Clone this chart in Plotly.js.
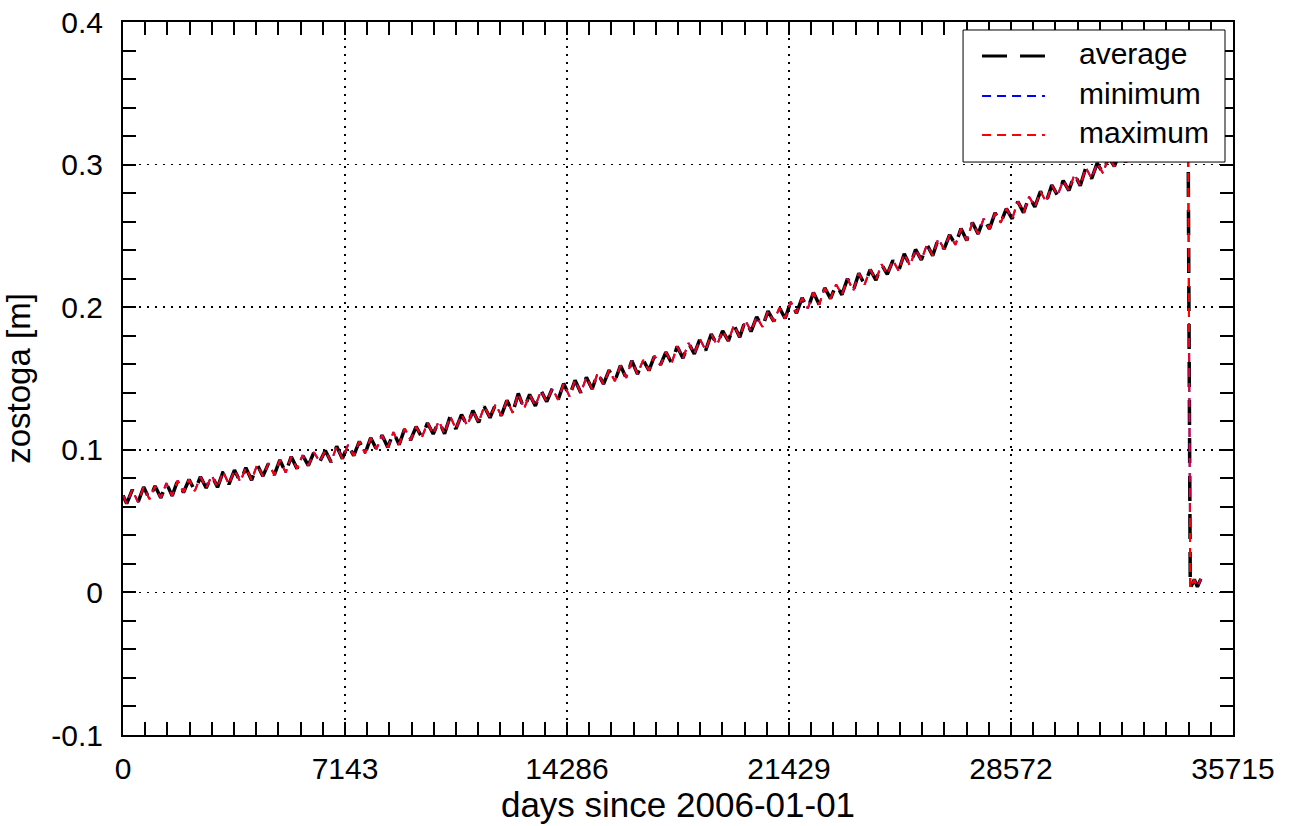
<!DOCTYPE html>
<html>
<head>
<meta charset="utf-8">
<script src="https://cdn.plot.ly/plotly-3.0.1.min.js"></script>
<style>
html, body { margin: 0; padding: 0; background: #ffffff; }
#chart { width: 1290px; height: 826px; }
</style>
</head>
<body>
<div id="chart"></div>
<script>
// ---- data ----
const days = [
  0,
  120, 300, 485, 665, 851, 1031, 1216, 1396, 1581, 1761,
  1946, 2126, 2312, 2492, 2677, 2857, 3042, 3222, 3407, 3587,
  3773, 3953, 4138, 4318, 4503, 4683, 4868, 5048, 5234, 5414,
  5599, 5779, 5964, 6144, 6329, 6509, 6695, 6875, 7060, 7240,
  7425, 7605, 7790, 7970, 8156, 8336, 8521, 8701, 8886, 9066,
  9251, 9431, 9617, 9797, 9982, 10162, 10347, 10527, 10712, 10892,
  11078, 11258, 11443, 11623, 11808, 11988, 12173, 12353, 12539, 12719,
  12904, 13084, 13269, 13449, 13634, 13814, 14000, 14180, 14365, 14545,
  14730, 14910, 15095, 15275, 15461, 15641, 15826, 16006, 16191, 16371,
  16556, 16736, 16922, 17102, 17287, 17467, 17652, 17832, 18017, 18197,
  18383, 18563, 18748, 18928, 19113, 19293, 19478, 19658, 19844, 20024,
  20209, 20389, 20574, 20754, 20939, 21119, 21305, 21485, 21670, 21850,
  22035, 22215, 22400, 22580, 22766, 22946, 23131, 23311, 23496, 23676,
  23861, 24041, 24227, 24407, 24592, 24772, 24957, 25137, 25322, 25502,
  25688, 25868, 26053, 26233, 26418, 26598, 26783, 26963, 27149, 27329,
  27514, 27694, 27879, 28059, 28244, 28424, 28610, 28790, 28975, 29155,
  29340, 29520, 29705, 29885, 30071, 30251, 30436, 30616, 30801, 30981,
  31166, 31346, 31532, 31712, 31897, 32077, 32262, 32442, 32627, 32807,
  32993, 33173, 33358, 33538, 33723, 33903, 34088, 34268,
  34340, 34470, 34570, 34680
];

const averageZ = [
  0.0680,
  0.0623, 0.0720, 0.0632, 0.0739, 0.0654, 0.0746, 0.0663, 0.0766, 0.0677, 0.0786,
  0.0701, 0.0792, 0.0711, 0.0811, 0.0732, 0.0820, 0.0737, 0.0847, 0.0758, 0.0858,
  0.0776, 0.0874, 0.0787, 0.0896, 0.0815, 0.0906, 0.0824, 0.0929, 0.0840, 0.0952,
  0.0868, 0.0962, 0.0889, 0.0983, 0.0916, 0.0995, 0.0914, 0.1025, 0.0938, 0.1034,
  0.0959, 0.1059, 0.0974, 0.1084, 0.1004, 0.1102, 0.1017, 0.1124, 0.1036, 0.1150,
  0.1067, 0.1162, 0.1087, 0.1188, 0.1111, 0.1202, 0.1113, 0.1236, 0.1146, 0.1247,
  0.1169, 0.1275, 0.1192, 0.1304, 0.1225, 0.1319, 0.1239, 0.1347, 0.1260, 0.1395,
  0.1288, 0.1388, 0.1308, 0.1414, 0.1338, 0.1430, 0.1351, 0.1465, 0.1375, 0.1488,
  0.1400, 0.1508, 0.1426, 0.1540, 0.1461, 0.1558, 0.1482, 0.1591, 0.1504, 0.1624,
  0.1531, 0.1629, 0.1556, 0.1660, 0.1591, 0.1685, 0.1608, 0.1725, 0.1642, 0.1749,
  0.1672, 0.1777, 0.1697, 0.1812, 0.1735, 0.1834, 0.1764, 0.1875, 0.1789, 0.1910,
  0.1829, 0.1933, 0.1862, 0.1972, 0.1900, 0.1996, 0.1921, 0.2039, 0.1958, 0.2066,
  0.1991, 0.2103, 0.2019, 0.2135, 0.2060, 0.2160, 0.2087, 0.2200, 0.2116, 0.2238,
  0.2158, 0.2264, 0.2190, 0.2301, 0.2231, 0.2328, 0.2255, 0.2374, 0.2291, 0.2405,
  0.2331, 0.2439, 0.2362, 0.2480, 0.2408, 0.2508, 0.2437, 0.2551, 0.2468, 0.2593,
  0.2514, 0.2621, 0.2549, 0.2661, 0.2593, 0.2692, 0.2620, 0.2741, 0.2663, 0.2775,
  0.2703, 0.2812, 0.2737, 0.2856, 0.2784, 0.2888, 0.2818, 0.2933, 0.2852, 0.2979,
  0.2902, 0.3010, 0.2939, 0.3053, 0.2987, 0.3087, 0.3017, 0.3140, 0.3063, 0.3176,
  0.3106, 0.3217, 0.3143, 0.3264, 0.3193, 0.3299, 0.3230, 0.3347,
  0.0030, 0.0090, 0.0040, 0.0095
];
// minimum and maximum coincide with the average in the reference
const minimumZ = averageZ.slice();
const maximumZ = averageZ.slice();

const seriesNames = ['average', 'minimum', 'maximum'];
const seriesColors = ['#000000', '#0000ff', '#ff0000'];

const xTickVals = [0, 7143, 14286, 21429, 28572, 35715];
const xTickText = ['0', '7143', '14286', '21429', '28572', '35715'];
const yTickVals = [-0.1, 0, 0.1, 0.2, 0.3, 0.4];
const yTickText = ['-0.1', '0', '0.1', '0.2', '0.3', '0.4'];

// ---- styles ----
const FONT = 'Liberation Sans, Arial, Helvetica, sans-serif';
const avgDash = '25px,13px';
const thinDash = '9px,6px';

const traces = [
  { x: days, y: averageZ, name: seriesNames[0], type: 'scatter', mode: 'lines',
    line: { color: seriesColors[0], width: 3.5, dash: avgDash }, showlegend: false },
  { x: days, y: minimumZ, name: seriesNames[1], type: 'scatter', mode: 'lines',
    line: { color: seriesColors[1], width: 2, dash: thinDash }, showlegend: false },
  { x: days, y: maximumZ, name: seriesNames[2], type: 'scatter', mode: 'lines',
    line: { color: seriesColors[2], width: 2, dash: thinDash }, showlegend: false }
];

// legend box drawn in paper coordinates
const L = { x0: 0.7568, x1: 0.9928, y0: 0.8036, y1: 0.9888,
            sx0: 0.7739, sx1: 0.8306, tx: 0.8595,
            rows: [0.9523, 0.8962, 0.8415] };

const shapes = [
  { type: 'rect', xref: 'paper', yref: 'paper', x0: L.x0, x1: L.x1, y0: L.y0, y1: L.y1,
    fillcolor: '#ffffff', line: { color: '#000000', width: 1 }, layer: 'above' },
  { type: 'line', xref: 'paper', yref: 'paper', x0: L.sx0, x1: L.sx1, y0: L.rows[0], y1: L.rows[0],
    line: { color: seriesColors[0], width: 3, dash: avgDash }, layer: 'above' },
  { type: 'line', xref: 'paper', yref: 'paper', x0: L.sx0, x1: L.sx1, y0: L.rows[1], y1: L.rows[1],
    line: { color: seriesColors[1], width: 2, dash: thinDash }, layer: 'above' },
  { type: 'line', xref: 'paper', yref: 'paper', x0: L.sx0, x1: L.sx1, y0: L.rows[2], y1: L.rows[2],
    line: { color: seriesColors[2], width: 2, dash: thinDash }, layer: 'above' }
];

const annotations = seriesNames.map((n, i) => ({
  text: n, xref: 'paper', yref: 'paper', x: L.tx, y: L.rows[i] + 0.004,
  xanchor: 'left', yanchor: 'middle', showarrow: false,
  font: { family: FONT, size: 30, color: '#000000' }
}));

const axisCommon = {
  showline: true, linecolor: '#000000', linewidth: 2, mirror: 'allticks',
  ticks: 'inside', ticklen: 13, tickwidth: 2, tickcolor: '#000000',
  showgrid: true, gridcolor: '#000000', gridwidth: 1.5, griddash: '2px,6px',
  zeroline: false, tickfont: { family: FONT, size: 30, color: '#000000' }
};

const layout = {
  width: 1290, height: 826,
  margin: { l: 123, r: 57, t: 22, b: 91, pad: 0 },
  paper_bgcolor: '#ffffff', plot_bgcolor: '#ffffff',
  font: { family: FONT, color: '#000000' },
  showlegend: false,
  xaxis: Object.assign({}, axisCommon, {
    range: [0, 35715], tickmode: 'array', tickvals: xTickVals, ticktext: xTickText,
    ticklabelstandoff: 6,
    minor: { dtick: 714.3, tick0: 0, ticks: 'inside', ticklen: 13, tickwidth: 2,
             tickcolor: '#000000', showgrid: false },
    title: { text: 'days since 2006-01-01', font: { family: FONT, size: 35, color: '#000000' }, standoff: 4 }
  }),
  yaxis: Object.assign({}, axisCommon, {
    range: [-0.1, 0.4], tickmode: 'array', tickvals: yTickVals, ticktext: yTickText,
    ticklabelstandoff: 12,
    minor: { dtick: 0.02, tick0: 0, ticks: 'inside', ticklen: 13, tickwidth: 2,
             tickcolor: '#000000', showgrid: false },
    title: { text: 'zostoga [m]', font: { family: FONT, size: 33, color: '#000000' }, standoff: 14 }
  }),
  shapes: shapes,
  annotations: annotations
};

Plotly.newPlot('chart', traces, layout, { staticPlot: true, displayModeBar: false });
</script>
</body>
</html>
